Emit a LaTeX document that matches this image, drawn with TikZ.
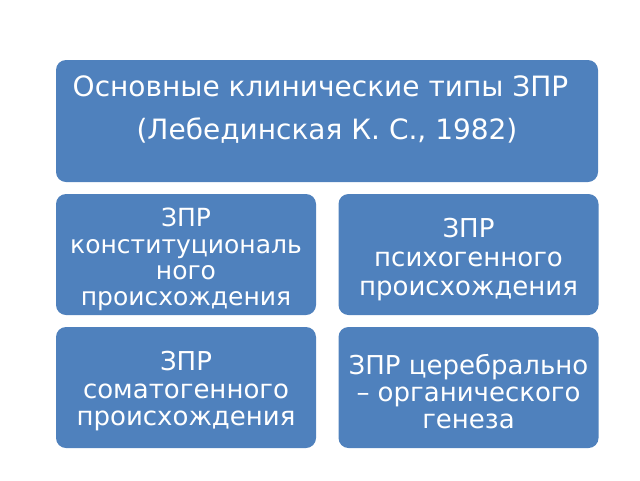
\documentclass[tikz,border=0pt]{standalone}
\usepackage{fontspec}
\setmainfont{DejaVu Sans}
\definecolor{boxblue}{HTML}{4F81BD}
\tikzset{
  typebox/.style={fill=boxblue, rounded corners=10pt, inner sep=0pt,
    minimum width=260pt, minimum height=121pt},
  boxtext/.style={text=white, align=center, inner sep=0pt,
    font=\fontsize{26}{28}\selectfont},
}
\begin{document}
\begin{tikzpicture}[x=1pt,y=-1pt]
			\useasboundingbox (0,0) rectangle (640,480);
			
			\node[typebox, minimum width=542pt, minimum height=122pt] (main) at (327,121) {};
			\node[boxtext, font=\fontsize{28}{43}\selectfont] (title) at (327,110)
			  {Основные клинические типы ЗПР\kern13pt\\(Лебединская К. С., 1982)};
			
			\node[typebox] (constit) at (186,254.5) {};
			\node[typebox] (psych) at (468.5,254.5) {};
			\node[typebox] (somat) at (186,387.5) {};
			\node[typebox] (cereb) at (468.5,387.5) {};
			
			\node[boxtext, font=\fontsize{25}{26.3}\selectfont] (constit text) at ([yshift=-5pt]constit)
			  {ЗПР\\конституциональ\\ного\\происхождения};
			\node[boxtext, font=\fontsize{26}{29}\selectfont] (psych text) at ([yshift=-5.5pt]psych)
			  {ЗПР\\психогенного\\происхождения};
			\node[boxtext, font=\fontsize{26}{27.5}\selectfont] (somat text) at ([yshift=-4pt]somat)
			  {ЗПР\\соматогенного\\происхождения};
			\node[boxtext, font=\fontsize{26}{27}\selectfont] (cereb text) at ([yshift=-4pt]cereb)
			  {ЗПР церебрально\\– органического\\генеза};
		  \end{tikzpicture}
\end{document}
